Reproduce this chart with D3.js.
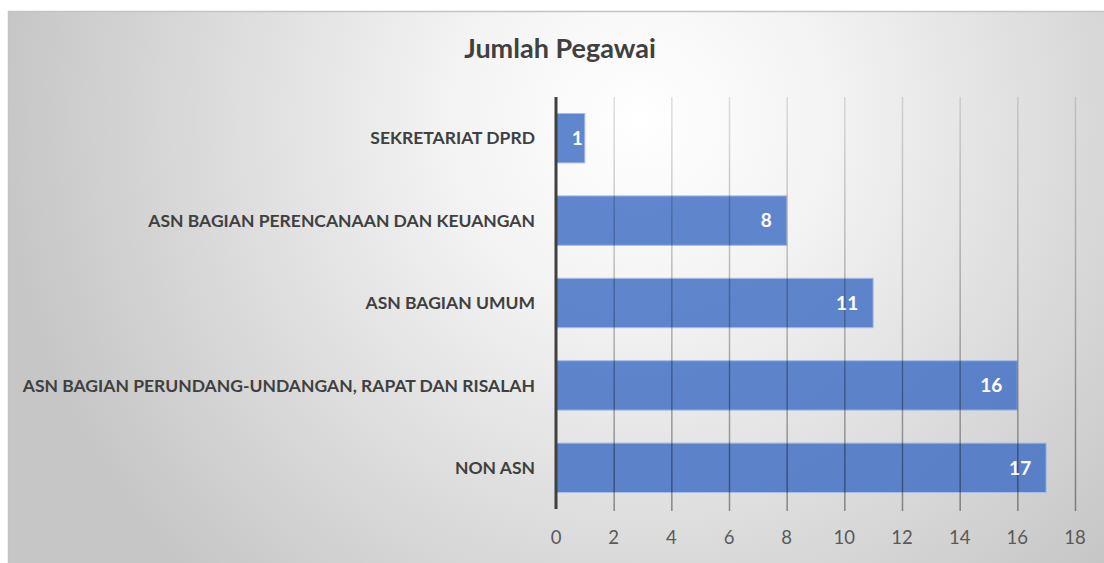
<!DOCTYPE html>
<html>
<head>
<meta charset="utf-8">
<script src="https://cdn.jsdelivr.net/npm/d3@7"></script>
<style>
  html, body { margin: 0; padding: 0; background: #fff; }
  svg { display: block; }
</style>
</head>
<body>
<div id="chart"></div>
<script>
const categories = [
  "SEKRETARIAT DPRD",
  "ASN BAGIAN PERENCANAAN DAN KEUANGAN",
  "ASN BAGIAN UMUM",
  "ASN BAGIAN PERUNDANG-UNDANGAN, RAPAT DAN RISALAH",
  "NON ASN"
];
const values = [1, 8, 11, 16, 17];
const xTicks = [0, 2, 4, 6, 8, 10, 12, 14, 16, 18];
const chartTitle = "Jumlah Pegawai";

const W = 1104, H = 563;
const plot = { left: 556, right: 1075, top: 97, bottom: 509 };
const FONT = "Lato, 'Open Sans', sans-serif";

const svg = d3.select("#chart").append("svg")
  .attr("width", W)
  .attr("height", H);

const defs = svg.append("defs");

const bg = defs.append("radialGradient")
  .attr("id", "bg")
  .attr("gradientUnits", "userSpaceOnUse")
  .attr("cx", 640).attr("cy", 120)
  .attr("r", 640);
bg.append("stop").attr("offset", 0).attr("stop-color", "#ffffff");
bg.append("stop").attr("offset", 0.3).attr("stop-color", "#f3f3f3");
bg.append("stop").attr("offset", 1).attr("stop-color", "#c6c6c6");

const gridGrad = defs.append("linearGradient")
  .attr("id", "grid")
  .attr("gradientUnits", "userSpaceOnUse")
  .attr("x1", 0).attr("y1", plot.top)
  .attr("x2", 0).attr("y2", plot.bottom + 2);
gridGrad.append("stop").attr("offset", 0).attr("stop-color", "#000").attr("stop-opacity", 0.12);
gridGrad.append("stop").attr("offset", 1).attr("stop-color", "#000").attr("stop-opacity", 0.4);

// chart area
svg.append("rect")
  .attr("x", 8.5).attr("y", 11.5)
  .attr("width", W).attr("height", H)
  .attr("fill", "url(#bg)")
  .attr("stroke", "#c4c4c4")
  .attr("stroke-width", 1.5);

svg.append("text")
  .attr("x", 560)
  .attr("y", 58)
  .attr("text-anchor", "middle")
  .attr("font-family", FONT)
  .attr("font-weight", "bold")
  .attr("font-size", 27)
  .attr("fill", "#404040")
  .text(chartTitle);

const x = d3.scaleLinear()
  .domain([0, 18])
  .range([plot.left, plot.right]);

const y = d3.scaleBand()
  .domain(categories)
  .range([plot.top, plot.bottom])
  .paddingInner(0.4)
  .paddingOuter(0.2);

// bars
svg.append("g")
  .selectAll("rect")
  .data(categories)
  .join("rect")
  .attr("x", x(0))
  .attr("y", d => y(d))
  .attr("width", (d, i) => x(values[i]) - x(0))
  .attr("height", y.bandwidth())
  .attr("fill", "#4472c4")
  .attr("fill-opacity", 0.85)
  .attr("stroke", "#a9bde6")
  .attr("stroke-width", 1);

// gridlines + ticks
svg.append("g")
  .selectAll("line")
  .data(xTicks.slice(1))
  .join("line")
  .attr("x1", d => x(d) + 0.5)
  .attr("x2", d => x(d) + 0.5)
  .attr("y1", plot.top)
  .attr("y2", plot.bottom + 2)
  .attr("stroke", "url(#grid)")
  .attr("stroke-width", 1.5);

// x tick labels
svg.append("g")
  .selectAll("text")
  .data(xTicks)
  .join("text")
  .attr("x", d => x(d))
  .attr("y", 544)
  .attr("text-anchor", "middle")
  .attr("font-family", FONT)
  .attr("font-size", 18.5)
  .attr("fill", "#595959")
  .text(d => d);

// category axis
svg.append("line")
  .attr("x1", x(0))
  .attr("x2", x(0))
  .attr("y1", plot.top)
  .attr("y2", plot.bottom)
  .attr("stroke", "#404040")
  .attr("stroke-width", 3);

svg.append("g")
  .selectAll("text")
  .data(categories)
  .join("text")
  .attr("x", 535)
  .attr("y", d => y(d) + y.bandwidth() / 2)
  .attr("dy", "0.35em")
  .attr("text-anchor", "end")
  .attr("font-family", FONT)
  .attr("font-weight", "bold")
  .attr("font-size", 17.5)
  .attr("fill", "#404040")
  .text(d => d);

// data labels
svg.append("g")
  .selectAll("text")
  .data(categories)
  .join("text")
  .attr("x", (d, i) => {
    const end = x(values[i]);
    return end - x(0) < 50 ? end - 2 : end - 15;
  })
  .attr("y", d => y(d) + y.bandwidth() / 2)
  .attr("dy", "0.36em")
  .attr("text-anchor", "end")
  .attr("font-family", FONT)
  .attr("font-weight", "bold")
  .attr("font-size", 19)
  .attr("fill", "#ffffff")
  .text((d, i) => values[i]);
</script>
</body>
</html>
